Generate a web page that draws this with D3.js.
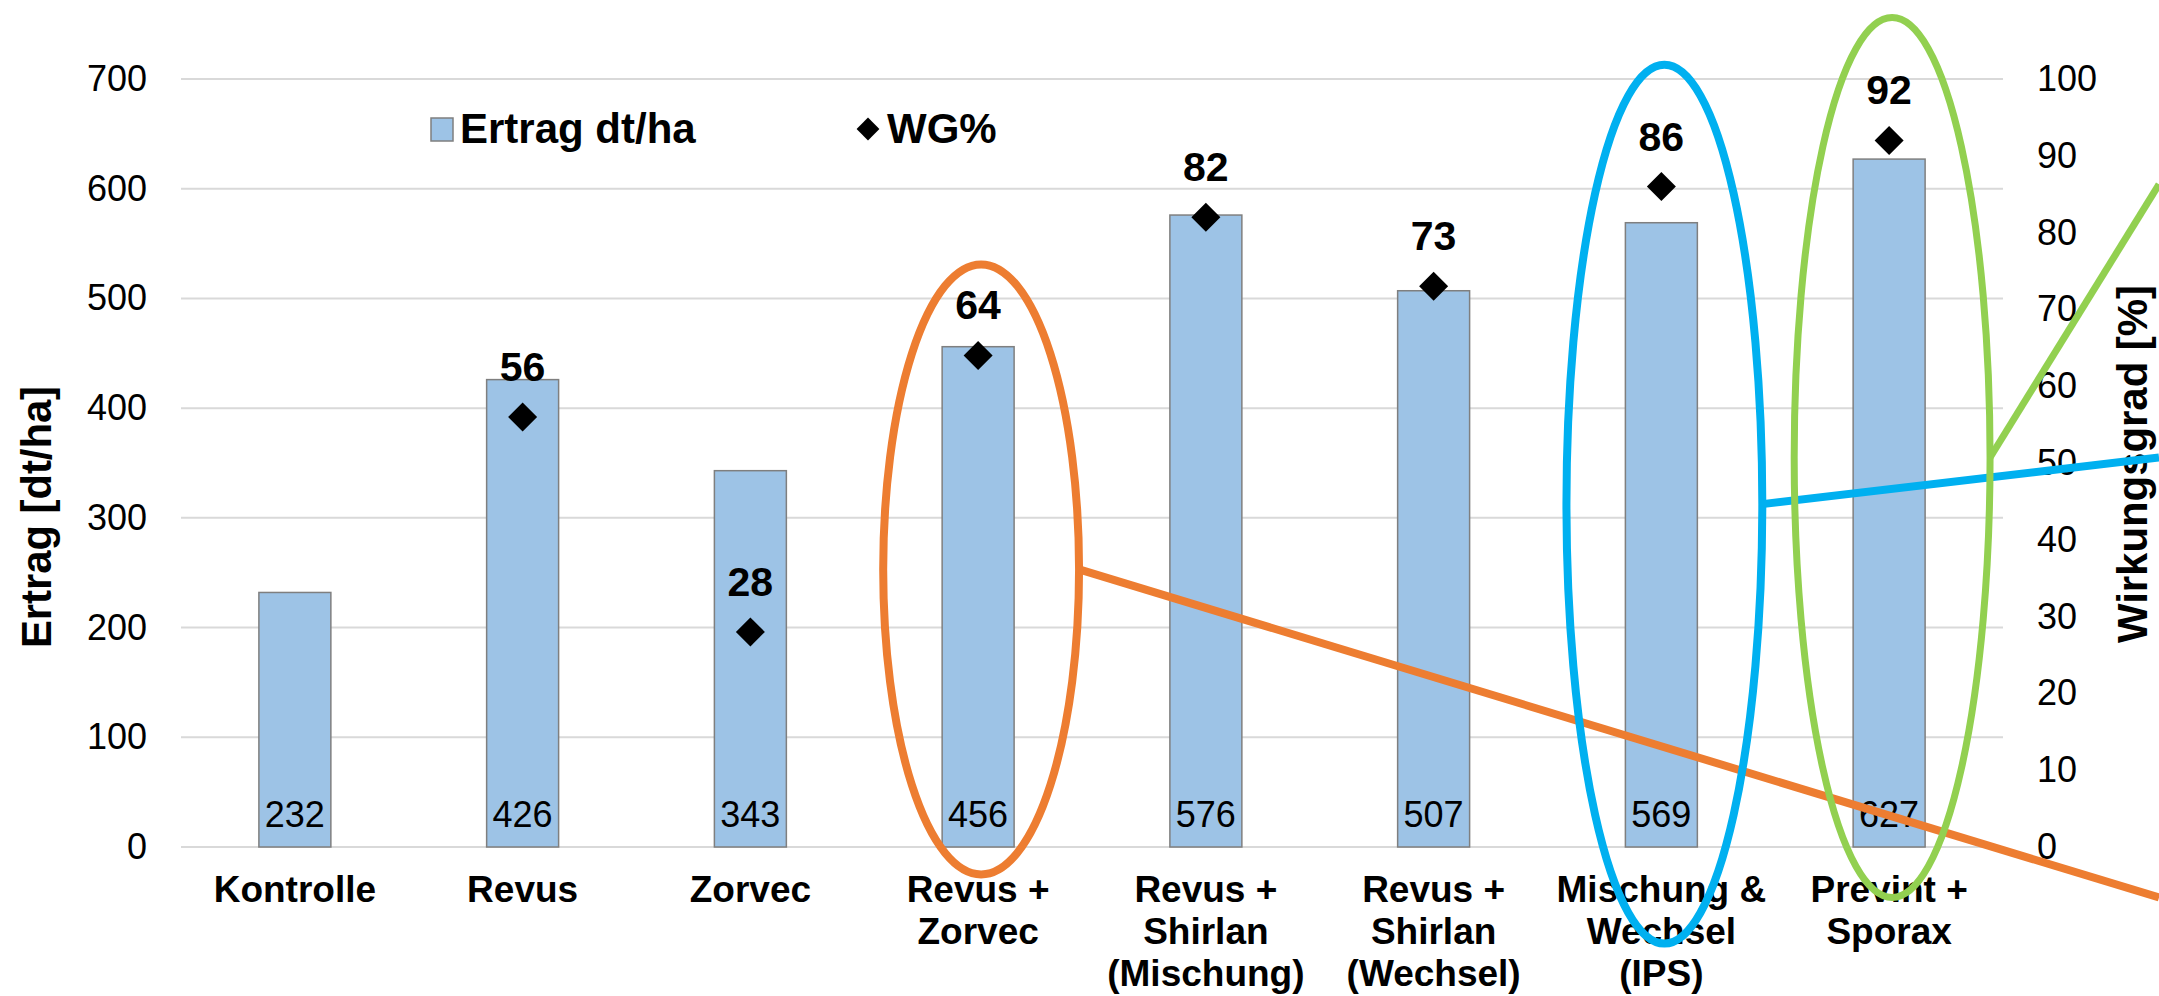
<!DOCTYPE html>
<html>
<head>
<meta charset="utf-8">
<script src="https://cdn.jsdelivr.net/npm/d3@7"></script>
<style>
  body { margin: 0; background: #fff; }
  svg { display: block; font-family: "Liberation Sans", Arial, sans-serif; }
</style>
</head>
<body>
<svg width="2159" height="996"></svg>
<script>
// Daten
const categories = [
  "Kontrolle",
  "Revus",
  "Zorvec",
  "Revus +\nZorvec",
  "Revus +\nShirlan\n(Mischung)",
  "Revus +\nShirlan\n(Wechsel)",
  "Mischung &\nWechsel\n(IPS)",
  "Prevint +\nSporax"
];
const ertrag = [232, 426, 343, 456, 576, 507, 569, 627];   // dt/ha
const wg = [null, 56, 28, 64, 82, 73, 86, 92];             // Wirkungsgrad %
const yTicks = [0, 100, 200, 300, 400, 500, 600, 700];
const yRightTicks = [0, 10, 20, 30, 40, 50, 60, 70, 80, 90, 100];

// Markierungen (Ellipsen + Linien), in Einheiten der linken Achse
const marks = [
  { cat: 3, top: 531, bottom: -25, end: -46, color: "#ED7D31", width: 8 },
  { cat: 6, top: 713, bottom: -88, end: 355, color: "#00B0F0", width: 8 },
  { cat: 7, top: 756, bottom: -46, end: 604, color: "#92D050", width: 7 }
];

const svg = d3.select("svg");
const W = 2159, H = 996;
const margin = { top: 79, right: 156, bottom: 149, left: 181 };

const x = d3.scaleBand()
  .domain(categories)
  .range([margin.left, W - margin.right])
  .padding(0);
const bw = x.bandwidth();
const barW = bw * 0.316;

const y = d3.scaleLinear().domain([0, 700]).range([H - margin.bottom, margin.top]);
const yR = d3.scaleLinear().domain([0, 100]).range([H - margin.bottom, margin.top]);

// Gitterlinien
svg.append("g")
  .selectAll("line")
  .data(yTicks)
  .join("line")
  .attr("x1", margin.left)
  .attr("x2", W - margin.right)
  .attr("y1", d => y(d))
  .attr("y2", d => y(d))
  .attr("stroke", "#d9d9d9")
  .attr("stroke-width", 2);

// Achsen
const leftAxis = svg.append("g")
  .attr("transform", `translate(${margin.left},0)`)
  .call(d3.axisLeft(y).tickValues(yTicks).tickSize(0).tickPadding(34));
const rightAxis = svg.append("g")
  .attr("transform", `translate(${W - margin.right},0)`)
  .call(d3.axisRight(yR).tickValues(yRightTicks).tickSize(0).tickPadding(34));
[leftAxis, rightAxis].forEach(a => {
  a.select(".domain").remove();
  a.selectAll("text")
    .attr("font-family", "Liberation Sans, Arial, sans-serif")
    .attr("font-size", 36)
    .attr("fill", "#000");
});

// Balken
svg.append("g")
  .selectAll("rect")
  .data(ertrag)
  .join("rect")
  .attr("x", (d, i) => x(categories[i]) + (bw - barW) / 2)
  .attr("y", d => y(d))
  .attr("width", barW)
  .attr("height", d => y(0) - y(d))
  .attr("fill", "#9DC3E6")
  .attr("stroke", "#7f7f7f")
  .attr("stroke-width", 1.5);

// Werte in den Balken
svg.append("g")
  .selectAll("text")
  .data(ertrag)
  .join("text")
  .attr("x", (d, i) => x(categories[i]) + bw / 2)
  .attr("y", y(0) - 20)
  .attr("text-anchor", "middle")
  .attr("font-size", 36)
  .text(d => d);

// WG% Rauten + Beschriftung
const wgPts = wg.map((v, i) => ({ v, i })).filter(d => d.v !== null);
const diamond = d3.symbol(d3.symbolSquare, 420);
svg.append("g")
  .selectAll("path")
  .data(wgPts)
  .join("path")
  .attr("d", diamond)
  .attr("transform", d => `translate(${x(categories[d.i]) + bw / 2},${yR(d.v)}) rotate(45)`)
  .attr("fill", "#000");
svg.append("g")
  .selectAll("text")
  .data(wgPts)
  .join("text")
  .attr("x", d => x(categories[d.i]) + bw / 2)
  .attr("y", d => yR(d.v) - 36)
  .attr("text-anchor", "middle")
  .attr("font-size", 41)
  .attr("font-weight", "bold")
  .text(d => d.v);

// Kategorie-Beschriftung
const xl = svg.append("g")
  .selectAll("text")
  .data(categories)
  .join("text")
  .attr("x", d => x(d) + bw / 2)
  .attr("y", y(0) + 55)
  .attr("text-anchor", "middle")
  .attr("font-size", 37)
  .attr("font-weight", "bold");
xl.selectAll("tspan")
  .data(d => d.split("\n").map(t => ({ t, c: d })))
  .join("tspan")
  .attr("x", d => x(d.c) + bw / 2)
  .attr("dy", (d, i) => i === 0 ? 0 : 42)
  .text(d => d.t);

// Achsentitel
svg.append("text")
  .attr("transform", "translate(51,517) rotate(-90)")
  .attr("text-anchor", "middle")
  .attr("font-size", 42)
  .attr("font-weight", "bold")
  .attr("textLength", 262)
  .attr("lengthAdjust", "spacingAndGlyphs")
  .text("Ertrag [dt/ha]");
svg.append("text")
  .attr("transform", "translate(2147,464) rotate(-90)")
  .attr("text-anchor", "middle")
  .attr("font-size", 42)
  .attr("font-weight", "bold")
  .attr("textLength", 358)
  .attr("lengthAdjust", "spacingAndGlyphs")
  .text("Wirkungsgrad [%]");

// Legende
const leg = svg.append("g");
leg.append("rect")
  .attr("x", 431).attr("y", 118)
  .attr("width", 22).attr("height", 23)
  .attr("fill", "#9DC3E6")
  .attr("stroke", "#7f7f7f")
  .attr("stroke-width", 1.5);
leg.append("text")
  .attr("x", 460).attr("y", 143)
  .attr("font-size", 42).attr("font-weight", "bold")
  .text("Ertrag dt/ha");
leg.append("path")
  .attr("d", d3.symbol(d3.symbolSquare, 260))
  .attr("transform", "translate(868,129) rotate(45)")
  .attr("fill", "#000");
leg.append("text")
  .attr("x", 887).attr("y", 143)
  .attr("font-size", 42).attr("font-weight", "bold")
  .text("WG%");

// Ellipsen und Linien
const mk = svg.append("g").attr("fill", "none");
marks.forEach(m => {
  const cx = x(categories[m.cat]) + bw / 2 + 3;
  const cy = (y(m.top) + y(m.bottom)) / 2;
  const rx = bw * 0.43;
  const ry = (y(m.bottom) - y(m.top)) / 2;
  mk.append("ellipse")
    .attr("cx", cx).attr("cy", cy)
    .attr("rx", rx).attr("ry", ry)
    .attr("stroke", m.color)
    .attr("stroke-width", m.width);
  mk.append("line")
    .attr("x1", cx + rx).attr("y1", cy)
    .attr("x2", W).attr("y2", y(m.end))
    .attr("stroke", m.color)
    .attr("stroke-width", m.width);
});
</script>
</body>
</html>
